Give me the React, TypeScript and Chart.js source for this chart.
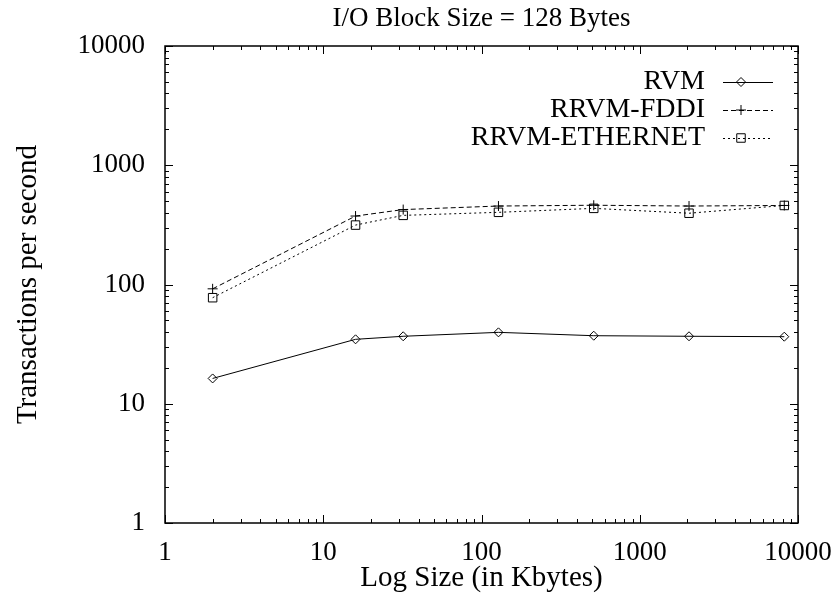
import React, { useEffect, useRef } from 'react';
import { Chart, registerables } from 'chart.js';

Chart.register(...registerables);

// ---- data ----
const logSizesKB = [2, 16, 32, 128, 512, 2048, 8192];
const rvmTps = [16.3, 34.7, 36.8, 39.7, 37.2, 36.8, 36.5];
const rrvmFddiTps = [92, 375, 425, 455, 462, 455, 460];
const rrvmEthernetTps = [77.5, 315, 380, 403, 435, 396, 460];

const xTickValues = [1, 10, 100, 1000, 10000];
const yTickValues = [1, 10, 100, 1000, 10000];
const minorMultipliers = [2, 3, 4, 5, 6, 7, 8, 9];

const chartTitle = 'I/O Block Size = 128 Bytes';
const xAxisTitle = 'Log Size (in Kbytes)';
const yAxisTitle = 'Transactions per second';
const seriesNames = ['RVM', 'RRVM-FDDI', 'RRVM-ETHERNET'];

const FONT = "'Liberation Serif', 'Times New Roman', Times, serif";
const FS = 27;
const FS_AXIS = 29;
const FS_KEY = 28;

function drawMarker(ctx: CanvasRenderingContext2D, style: string, x: number, y: number, r: number) {
  ctx.beginPath();
  if (style === 'rectRot') {
    ctx.moveTo(x, y - r);
    ctx.lineTo(x + r, y);
    ctx.lineTo(x, y + r);
    ctx.lineTo(x - r, y);
    ctx.closePath();
  } else if (style === 'cross') {
    ctx.moveTo(x - r, y);
    ctx.lineTo(x + r, y);
    ctx.moveTo(x, y - r);
    ctx.lineTo(x, y + r);
  } else if (style === 'rect') {
    const s = Math.SQRT1_2 * r;
    ctx.rect(x - s, y - s, 2 * s, 2 * s);
  }
  ctx.stroke();
}

const framePlugin = {
  id: 'gnuplotFrame',
  beforeDatasetsDraw(chart: any) {
    const { ctx, chartArea: a, scales } = chart;
    ctx.save();
    ctx.strokeStyle = '#000';
    ctx.lineWidth = 1;
    const seg = (x1: number, y1: number, x2: number, y2: number) => {
      ctx.beginPath();
      ctx.moveTo(x1, y1);
      ctx.lineTo(x2, y2);
      ctx.stroke();
    };
    const major = 8, minor = 4;
    const build = (vals: number[]) => {
      const out: [number, number][] = [];
      for (let i = 0; i < vals.length; i++) {
        out.push([vals[i], major]);
        if (i < vals.length - 1) minorMultipliers.forEach((m) => out.push([vals[i] * m, minor]));
      }
      return out;
    };
    build(xTickValues).forEach(([v, len]) => {
      const px = Math.round(scales.x.getPixelForValue(v)) + 0.5;
      seg(px, a.bottom, px, a.bottom - len);
      seg(px, a.top, px, a.top + len);
    });
    build(yTickValues).forEach(([v, len]) => {
      const py = Math.round(scales.y.getPixelForValue(v)) + 0.5;
      seg(a.left, py, a.left + len, py);
      seg(a.right, py, a.right - len, py);
    });
    ctx.lineWidth = 1.5;
    ctx.strokeRect(a.left, a.top, a.right - a.left, a.bottom - a.top);
    ctx.restore();
  },
};

const keyPlugin = {
  id: 'gnuplotKey',
  afterDraw(chart: any) {
    const { ctx, chartArea: a } = chart;
    ctx.save();
    ctx.font = `${FS_KEY}px ${FONT}`;
    ctx.fillStyle = '#000';
    ctx.textAlign = 'right';
    ctx.textBaseline = 'middle';
    chart.data.datasets.forEach((ds: any, i: number) => {
      const y = a.top + 36 + i * 28;
      ctx.fillText(ds.label, a.right - 93, y);
      ctx.strokeStyle = '#000';
      ctx.lineWidth = 1;
      ctx.setLineDash(ds.borderDash || []);
      ctx.beginPath();
      ctx.moveTo(a.right - 75, y + 0.5);
      ctx.lineTo(a.right - 25, y + 0.5);
      ctx.stroke();
      ctx.setLineDash([]);
      drawMarker(ctx, ds.pointStyle, a.right - 57, y, ds.pointRadius);
    });
    ctx.restore();
  },
};

export default function App() {
  const ref = useRef<HTMLCanvasElement | null>(null);
  useEffect(() => {
    if (!ref.current) return;
    const mk = (vals: number[]) => logSizesKB.map((x, i) => ({ x, y: vals[i] }));
    const common = {
      borderColor: '#000',
      borderWidth: 1,
      pointBorderColor: '#000',
      pointBackgroundColor: 'rgba(0,0,0,0)',
      pointBorderWidth: 1,
      tension: 0,
      fill: false,
    };
    const chart = new Chart(ref.current, {
      type: 'line',
      data: {
        datasets: [
          { ...common, label: seriesNames[0], data: mk(rvmTps), pointStyle: 'rectRot', pointRadius: 4.5 },
          { ...common, label: seriesNames[1], data: mk(rrvmFddiTps), borderDash: [5, 3], pointStyle: 'cross', pointRadius: 5 },
          { ...common, label: seriesNames[2], data: mk(rrvmEthernetTps), borderDash: [2, 3], pointStyle: 'rect', pointRadius: 6 },
        ] as any,
      },
      options: {
        animation: false,
        responsive: false,
        devicePixelRatio: 1,
        layout: { padding: { left: 0, right: 35, top: 0, bottom: 0 } },
        plugins: {
          legend: { display: false },
          tooltip: { enabled: false },
          title: {
            display: true,
            fullSize: false,
            text: chartTitle,
            color: '#000',
            font: { family: FONT, size: FS, weight: 'normal' },
            padding: { top: 3, bottom: 10.6 },
          },
        },
        scales: {
          x: {
            type: 'logarithmic',
            min: 1,
            max: 10000,
            grid: { display: false, drawTicks: false },
            border: { display: false },
            afterBuildTicks: (s: any) => {
              s.ticks = xTickValues.map((v) => ({ value: v }));
            },
            afterFit: (s: any) => {
              s.height = 74;
              s.paddingLeft = 0;
              s.paddingRight = 0;
            },
            ticks: {
              autoSkip: false,
              maxRotation: 0,
              padding: 14,
              color: '#000',
              font: { family: FONT, size: FS },
              callback: (v: any) => String(v),
            },
            title: {
              display: true,
              text: xAxisTitle,
              color: '#000',
              font: { family: FONT, size: FS_AXIS },
              padding: { top: 0, bottom: 1 },
            },
          },
          y: {
            type: 'logarithmic',
            min: 1,
            max: 10000,
            grid: { display: false, drawTicks: false },
            border: { display: false },
            afterBuildTicks: (s: any) => {
              s.ticks = yTickValues.map((v) => ({ value: v }));
            },
            afterFit: (s: any) => {
              s.width = 165;
              s.paddingTop = 0;
              s.paddingBottom = 0;
            },
            ticks: {
              autoSkip: false,
              padding: 20,
              color: '#000',
              font: { family: FONT, size: FS },
              callback: (v: any) => String(v),
            },
            title: {
              display: true,
              text: yAxisTitle,
              color: '#000',
              font: { family: FONT, size: FS_AXIS },
              padding: { top: 10.5, bottom: 0 },
            },
          },
        },
      } as any,
      plugins: [framePlugin, keyPlugin],
    });
    return () => chart.destroy();
  }, []);
  return (
    <div style={{ position: 'fixed', left: 0, top: 0, width: 833, height: 597, background: '#fff' }}>
      <canvas ref={ref} width={833} height={597} style={{ display: 'block', width: 833, height: 597 }} />
    </div>
  );
}
